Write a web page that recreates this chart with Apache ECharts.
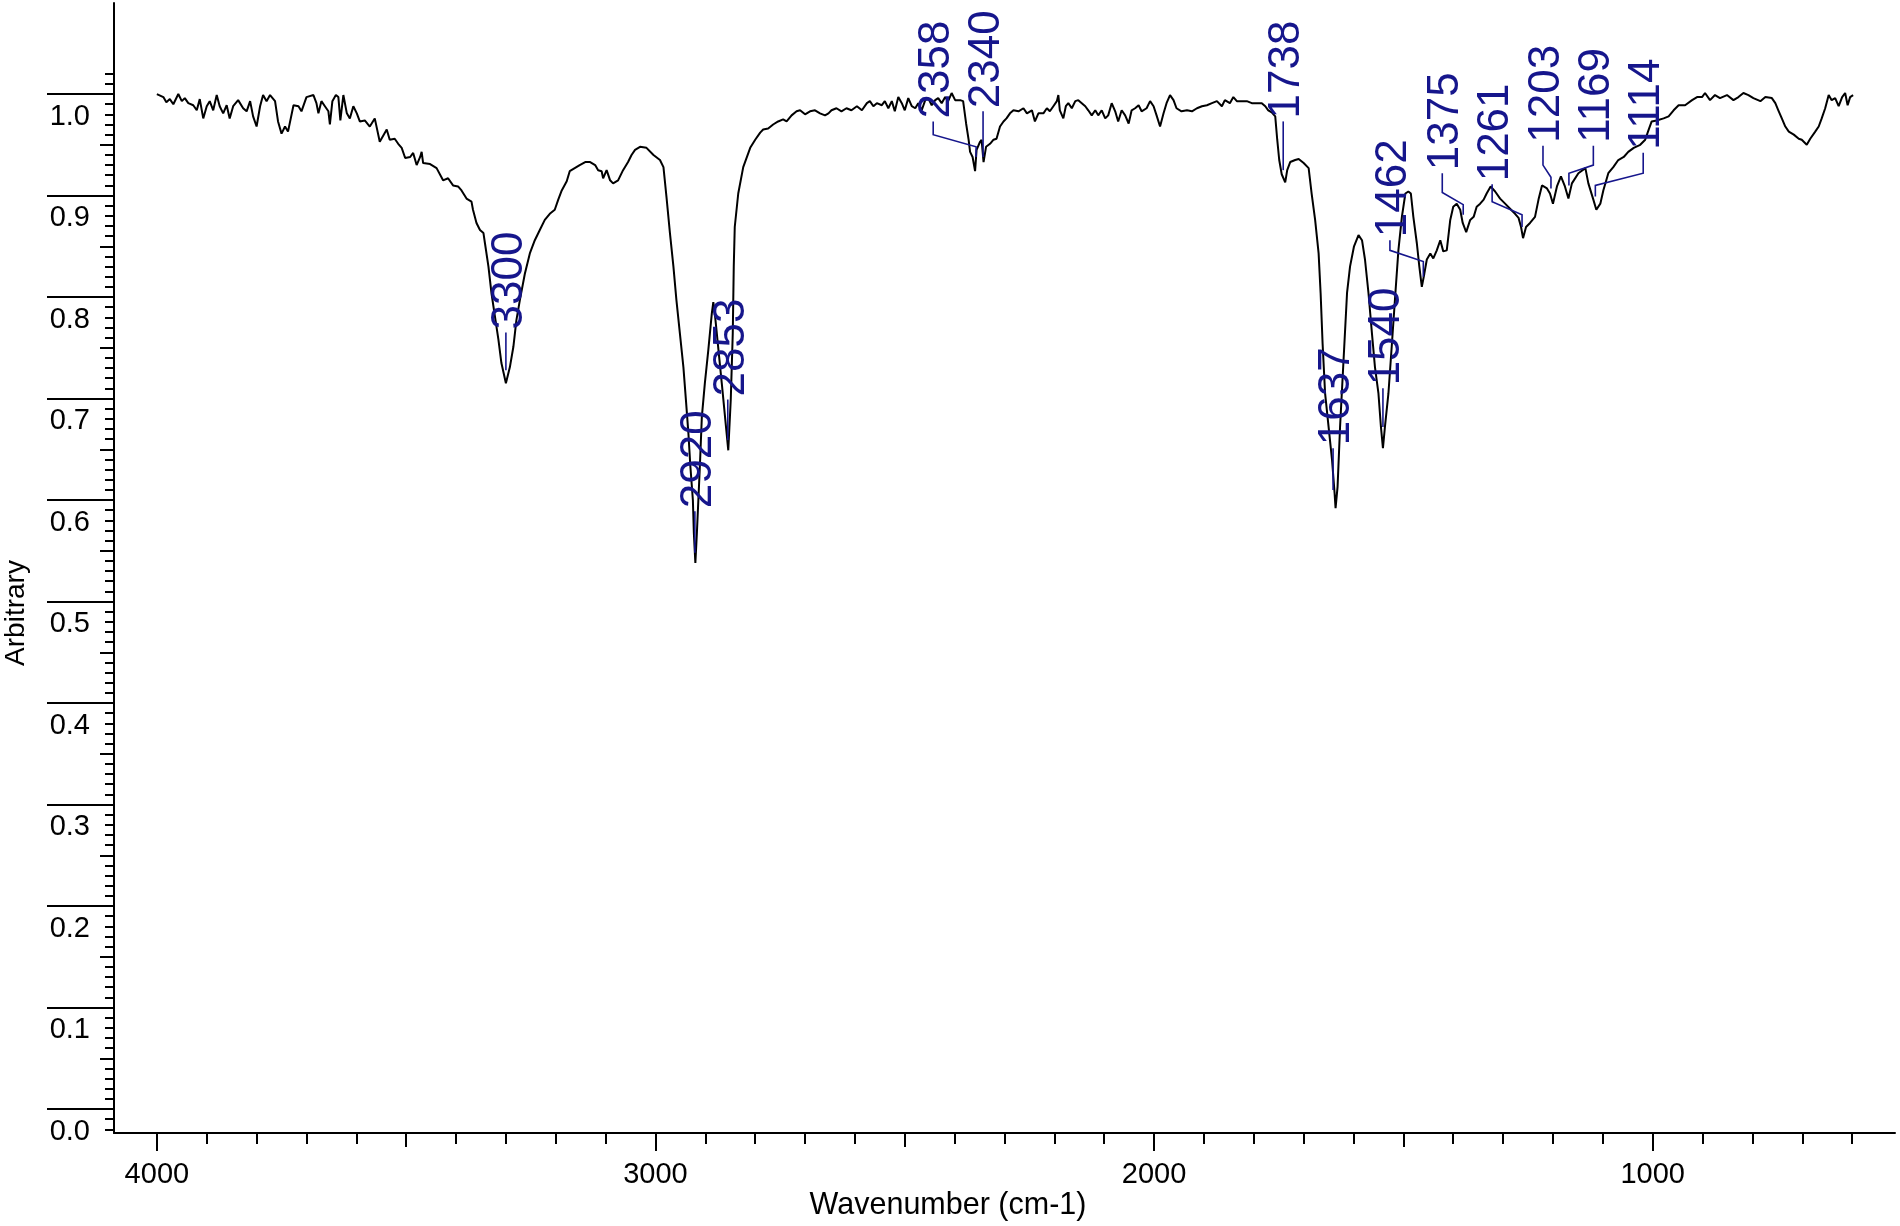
<!DOCTYPE html>
<html>
<head>
<meta charset="utf-8">
<title>IR spectrum</title>
<script src="https://cdn.jsdelivr.net/npm/echarts@6.0.0/dist/echarts.min.js"></script>
<style>
  html, body { margin: 0; padding: 0; background: #fff; }
  #chart { width: 1900px; height: 1226px; }
</style>
</head>
<body>
<div id="chart"></div>
<script>
// spectrum (wavenumber in cm-1, arbitrary units)
var specWn = [
  4000, 3987, 3981, 3974, 3967, 3957, 3950, 3944, 3937, 3927, 3920, 3914, 3907, 3900, 3894, 3887, 3880, 3874, 3867, 3860,
  3854, 3847, 3837, 3827, 3820, 3813, 3807, 3800, 3793, 3787, 3780, 3773, 3763, 3757, 3750, 3743, 3737, 3726, 3716, 3710,
  3700, 3686, 3680, 3676, 3670, 3663, 3656, 3653, 3648, 3641, 3636, 3632, 3626, 3619, 3613, 3606, 3599, 3593, 3583, 3573,
  3563, 3553, 3539, 3533, 3523, 3516, 3509, 3502, 3492, 3486, 3479, 3472, 3469, 3466, 3452,
  3439, 3426, 3416, 3406, 3396, 3389, 3379, 3369, 3366, 3359, 3352, 3345, 3342, 3335, 3329, 3322, 3315, 3309, 3300, 3292,
  3285, 3279, 3272, 3262, 3252, 3242, 3232, 3222, 3212, 3202, 3195, 3188, 3178, 3172, 3162, 3152, 3141, 3131, 3121, 3115,
  3108, 3105, 3098, 3091, 3085, 3075, 3065, 3055, 3048, 3041, 3031, 3018, 3004, 2991, 2984, 2978, 2971, 2964, 2958, 2951,
  2944, 2939, 2934, 2930, 2925, 2923, 2920, 2917, 2914, 2911, 2907, 2901, 2894, 2887, 2884, 2881, 2867, 2854, 2849, 2845,
  2843, 2841, 2834, 2824, 2810, 2800, 2790,
  2784, 2774, 2764, 2754, 2744, 2737, 2727, 2717, 2710, 2700, 2690, 2680, 2670, 2660, 2653, 2647, 2637, 2627, 2617, 2607,
  2596, 2586, 2576, 2570, 2563, 2556, 2546, 2540, 2533, 2526, 2520, 2513, 2506, 2500, 2493, 2486, 2479, 2473, 2466, 2459,
  2453, 2446, 2439, 2433, 2426, 2419, 2413, 2406, 2399, 2389, 2383, 2377, 2372, 2369, 2364, 2359, 2356, 2349, 2346, 2342,
  2337, 2329, 2322, 2316, 2309, 2302, 2296, 2289, 2282, 2272, 2262, 2255, 2245, 2239, 2232, 2222, 2215, 2209, 2202, 2195,
  2192, 2189, 2182, 2177, 2172, 2165, 2158, 2152, 2145, 2138, 2132, 2125, 2118, 2112, 2105, 2098, 2092, 2085, 2078, 2072,
  2065, 2058, 2051, 2045, 2038, 2031, 2025, 2015, 2008, 2001, 1995, 1988, 1981, 1975, 1968, 1961, 1955, 1945, 1934, 1924,
  1914, 1904, 1894, 1884, 1874, 1864, 1858, 1848, 1841, 1834, 1824, 1814, 1804, 1794, 1784, 1777, 1771, 1764, 1757, 1753,
  1749, 1744, 1737, 1733, 1727, 1717, 1710, 1700, 1690,
  1684, 1677, 1670, 1666, 1662, 1657, 1650, 1643, 1638, 1636, 1632, 1627, 1620, 1613, 1607, 1599, 1590, 1583, 1577, 1570,
  1563, 1557, 1550, 1545, 1541, 1537, 1530, 1523, 1516, 1510, 1503, 1496, 1490, 1485, 1480, 1473, 1468, 1463, 1458, 1453,
  1446, 1440, 1433, 1426, 1420, 1413, 1406, 1400, 1393, 1386, 1381, 1374, 1366, 1359, 1353, 1346, 1339, 1333, 1325, 1316,
  1306, 1296, 1286, 1276, 1269, 1264, 1260, 1254, 1246, 1236, 1229, 1222, 1212, 1206, 1200, 1192, 1184,
  1176, 1169, 1162, 1149, 1135, 1129, 1119, 1113, 1105, 1099, 1089, 1079, 1069, 1058, 1049, 1038, 1025, 1015, 1008, 1002,
  992, 978, 968, 958, 948, 935, 921, 911, 901, 895, 885, 875, 865, 851, 838, 828, 818, 808, 798, 784,
  774, 761, 754, 748, 741, 734, 727, 717, 707, 701, 691, 684, 674, 667, 661, 654, 647, 641, 634, 627,
  620, 614, 609, 604, 598
];
var specVal = [
  1.000, 0.997, 0.992, 0.995, 0.990, 1.000, 0.993, 0.996, 0.991, 0.989, 0.984, 0.995, 0.976, 0.988, 0.993, 0.984, 0.999, 0.988, 0.981, 0.989,
  0.976, 0.988, 0.994, 0.986, 0.983, 0.993, 0.978, 0.968, 0.988, 0.999, 0.993, 0.999, 0.993, 0.973, 0.961, 0.968, 0.963, 0.989, 0.988, 0.983,
  0.997, 0.999, 0.991, 0.981, 0.993, 0.988, 0.983, 0.970, 0.993, 0.999, 0.997, 0.974, 0.999, 0.981, 0.976, 0.988, 0.981, 0.973, 0.974, 0.968,
  0.976, 0.953, 0.965, 0.955, 0.956, 0.951, 0.947, 0.937, 0.938, 0.942, 0.930, 0.938, 0.943, 0.932, 0.931,
  0.927, 0.915, 0.917, 0.910, 0.909, 0.905, 0.897, 0.894, 0.886, 0.873, 0.866, 0.863, 0.853, 0.830, 0.804, 0.781, 0.758, 0.735, 0.715, 0.731,
  0.751, 0.777, 0.797, 0.823, 0.843, 0.856, 0.866, 0.876, 0.882, 0.886, 0.896, 0.905, 0.914, 0.924, 0.927, 0.930, 0.933, 0.933, 0.930, 0.925,
  0.924, 0.917, 0.925, 0.915, 0.912, 0.915, 0.925, 0.933, 0.940, 0.945, 0.948, 0.947, 0.940, 0.935, 0.928, 0.899, 0.863, 0.830, 0.797, 0.764,
  0.731, 0.699, 0.666, 0.633, 0.600, 0.567, 0.538, 0.567, 0.600, 0.633, 0.682, 0.715, 0.748, 0.784, 0.795, 0.784, 0.715, 0.649, 0.699, 0.764,
  0.830, 0.869, 0.902, 0.928, 0.947, 0.955, 0.962,
  0.965, 0.966, 0.970, 0.973, 0.975, 0.973, 0.979, 0.983, 0.984, 0.980, 0.983, 0.984, 0.981, 0.979, 0.981, 0.984, 0.986, 0.983, 0.986, 0.984,
  0.988, 0.984, 0.991, 0.993, 0.988, 0.991, 0.989, 0.993, 0.986, 0.993, 0.983, 0.997, 0.991, 0.984, 0.996, 0.988, 0.986, 0.991, 0.984, 0.994,
  0.996, 0.989, 0.994, 0.996, 0.991, 0.997, 0.993, 1.001, 0.994, 0.994, 0.993, 0.971, 0.955, 0.943, 0.938, 0.924, 0.945, 0.953, 0.955, 0.933,
  0.948, 0.951, 0.955, 0.956, 0.968, 0.973, 0.976, 0.981, 0.984, 0.983, 0.986, 0.981, 0.984, 0.973, 0.981, 0.981, 0.986, 0.983, 0.988, 0.993,
  0.999, 0.984, 0.976, 0.988, 0.991, 0.986, 0.993, 0.994, 0.991, 0.988, 0.984, 0.979, 0.984, 0.979, 0.984, 0.976, 0.979, 0.991, 0.983, 0.973,
  0.984, 0.979, 0.971, 0.984, 0.986, 0.989, 0.983, 0.986, 0.993, 0.988, 0.979, 0.968, 0.981, 0.991, 0.999, 0.994, 0.986, 0.983, 0.984, 0.983,
  0.986, 0.988, 0.989, 0.991, 0.993, 0.988, 0.994, 0.991, 0.997, 0.993, 0.993, 0.993, 0.991, 0.991, 0.991, 0.988, 0.984, 0.982, 0.978, 0.955,
  0.935, 0.921, 0.913, 0.925, 0.933, 0.935, 0.936, 0.932, 0.927,
  0.902, 0.876, 0.843, 0.804, 0.754, 0.705, 0.672, 0.639, 0.607, 0.592, 0.613, 0.672, 0.738, 0.804, 0.830, 0.850, 0.861, 0.856, 0.837, 0.804,
  0.764, 0.731, 0.705, 0.672, 0.651, 0.672, 0.705, 0.754, 0.804, 0.846, 0.879, 0.902, 0.904, 0.902, 0.879, 0.853, 0.830, 0.810, 0.823, 0.837,
  0.843, 0.838, 0.846, 0.856, 0.845, 0.846, 0.876, 0.889, 0.892, 0.886, 0.873, 0.864, 0.876, 0.879, 0.889, 0.892, 0.896, 0.902, 0.909, 0.904,
  0.897, 0.892, 0.887, 0.882, 0.878, 0.869, 0.858, 0.869, 0.873, 0.879, 0.896, 0.910, 0.907, 0.902, 0.892, 0.909, 0.919,
  0.909, 0.897, 0.912, 0.922, 0.927, 0.912, 0.896, 0.886, 0.892, 0.905, 0.922, 0.928, 0.935, 0.938, 0.943, 0.947, 0.950, 0.955, 0.965, 0.973,
  0.974, 0.976, 0.978, 0.984, 0.989, 0.989, 0.994, 0.997, 0.997, 1.001, 0.994, 0.999, 0.996, 0.999, 0.994, 0.997, 1.001, 0.999, 0.996, 0.993,
  0.997, 0.996, 0.991, 0.984, 0.976, 0.968, 0.963, 0.960, 0.956, 0.955, 0.950, 0.956, 0.963, 0.968, 0.976, 0.986, 0.999, 0.994, 0.996, 0.988,
  0.997, 1.001, 0.989, 0.997, 0.999
];

// peak annotations
var peakLabels = ['3300', '2920', '2853', '2358', '2340', '1738', '1637', '1540', '1462', '1375', '1261', '1203', '1169', '1114'];
var peakWn = [3300, 2921, 2855, 2357, 2343, 1741, 1641, 1541, 1460, 1380, 1262, 1204, 1168, 1115];
var leaderFromVal = [0.728, 0.548, 0.659, 0.938, 0.938, 0.925, 0.610, 0.672, 0.820, 0.881, 0.869, 0.907, 0.910, 0.899];
// where each label text sits (its column and its lower end), and the bend of the leader
var labelWn = [3300, 2921, 2855, 2443, 2343, 1741, 1641, 1541, 1527, 1422, 1322, 1220, 1119, 1019];
var labelBaseVal = [0.768, 0.592, 0.702, 0.976, 0.986, 0.976, 0.654, 0.713, 0.859, 0.925, 0.914, 0.952, 0.952, 0.945];
var bendLowVal = [null, null, null, 0.948, null, null, null, null, 0.835, 0.891, 0.881, 0.918, 0.922, 0.910];
var bendHighVal = [null, null, null, 0.960, null, null, null, null, 0.846, 0.903, 0.894, 0.930, 0.930, 0.922];

// axis ticks
var xMajorTicks = [1000, 2000, 3000, 4000];
var yMajorTicks = [0, 0.1, 0.2, 0.3, 0.4, 0.5, 0.6, 0.7, 0.8, 0.9, 1.0];

var FONT = '"Liberation Sans", Arial, sans-serif';
var NAVY = '#16168c';
var X_MIN = 514, X_MAX = 4086;
var Y_MIN = -0.0236, Y_MAX = 1.0897;

var xMidTicks = [], xMinorTicks = [];
for (var t = 600; t < 4000; t += 100) {
    if (t % 1000 === 0) continue;
    if (t % 500 === 0) xMidTicks.push(t); else xMinorTicks.push(t);
}
var yMidTicks = [], yMinorTicks = [];
for (var k = -2; k <= 102; k++) {
    if (k % 10 === 0) continue;
    if (k % 5 === 0) yMidTicks.push(k / 100); else yMinorTicks.push(k / 100);
}

var spectrum = specWn.map(function (w, i) { return [w, specVal[i]]; });

// extra axes that only draw the small ticks
function tickOnlyAxis(isX, values, len) {
    var ax = {
        type: 'value',
        min: isX ? X_MIN : Y_MIN,
        max: isX ? X_MAX : Y_MAX,
        axisLine: { show: false, onZero: false },
        axisLabel: { show: false },
        splitLine: { show: false },
        axisTick: { show: true, customValues: values, length: len, lineStyle: { color: '#000', width: 2 } }
    };
    if (isX) { ax.inverse = true; ax.position = 'bottom'; } else { ax.position = 'left'; }
    return ax;
}

function renderPeakLabel(params, api) {
    var i = params.dataIndex;
    var base = api.coord([labelWn[i], labelBaseVal[i]]);
    var pts = [api.coord([peakWn[i], leaderFromVal[i]])];
    if (bendLowVal[i] != null) {
        pts.push(api.coord([peakWn[i], bendLowVal[i]]));
        pts.push(api.coord([labelWn[i], bendHighVal[i]]));
    }
    pts.push([base[0], base[1] + 3]);
    return {
        type: 'group',
        children: [{
            type: 'polyline',
            shape: { points: pts },
            style: { stroke: NAVY, lineWidth: 1.6, fill: null }
        }, {
            type: 'text',
            x: base[0] + 4,
            y: base[1],
            rotation: Math.PI / 2,
            style: {
                text: peakLabels[i],
                font: '44px ' + FONT,
                fill: NAVY,
                align: 'left',
                verticalAlign: 'middle'
            }
        }]
    };
}

var chart = echarts.init(document.getElementById('chart'), null, { renderer: 'canvas' });
var option = {
    animation: false,
    backgroundColor: '#fff',
    grid: { left: 114, right: 5, top: 3, bottom: 93, containLabel: false },
    xAxis: [{
        type: 'value',
        inverse: true,
        min: X_MIN,
        max: X_MAX,
        position: 'bottom',
        axisLine: { show: true, onZero: false, lineStyle: { color: '#000', width: 2 } },
        axisTick: { show: true, customValues: xMajorTicks, length: 18, lineStyle: { color: '#000', width: 2 } },
        axisLabel: {
            customValues: xMajorTicks,
            formatter: function (v) { return String(v); },
            color: '#000', fontFamily: FONT, fontSize: 29, margin: 27
        },
        splitLine: { show: false }
    },
        tickOnlyAxis(true, xMidTicks, 14),
        tickOnlyAxis(true, xMinorTicks, 11)
    ],
    yAxis: [{
        type: 'value',
        min: Y_MIN,
        max: Y_MAX,
        position: 'left',
        axisLine: { show: true, onZero: false, lineStyle: { color: '#000', width: 2 } },
        axisTick: { show: true, customValues: yMajorTicks, length: 67, lineStyle: { color: '#000', width: 2 } },
        axisLabel: {
            customValues: yMajorTicks,
            formatter: function (v) { return v.toFixed(1); },
            color: '#000', fontFamily: FONT, fontSize: 29, margin: 24,
            verticalAlign: 'top', padding: [8, 0, 0, 0]
        },
        splitLine: { show: false }
    },
        tickOnlyAxis(false, yMidTicks, 14),
        tickOnlyAxis(false, yMinorTicks, 9)
    ],
    graphic: [{
        type: 'text',
        x: 16, y: 613,
        rotation: Math.PI / 2,
        style: { text: 'Arbitrary', font: '28px ' + FONT, fill: '#000', align: 'center', verticalAlign: 'middle' }
    }, {
        type: 'text',
        x: 948, y: 1206,
        style: { text: 'Wavenumber (cm-1)', font: '30.5px ' + FONT, fill: '#000', align: 'center', verticalAlign: 'middle' }
    }],
    series: [{
        type: 'line',
        data: spectrum,
        showSymbol: false,
        symbol: 'none',
        lineStyle: { color: '#000', width: 2 },
        z: 2
    }, {
        type: 'custom',
        data: peakWn.map(function (w, i) { return [w, leaderFromVal[i]]; }),
        renderItem: renderPeakLabel,
        silent: true,
        z: 3
    }]
};
chart.setOption(option);
window.addEventListener('resize', chart.resize);
</script>
</body>
</html>
